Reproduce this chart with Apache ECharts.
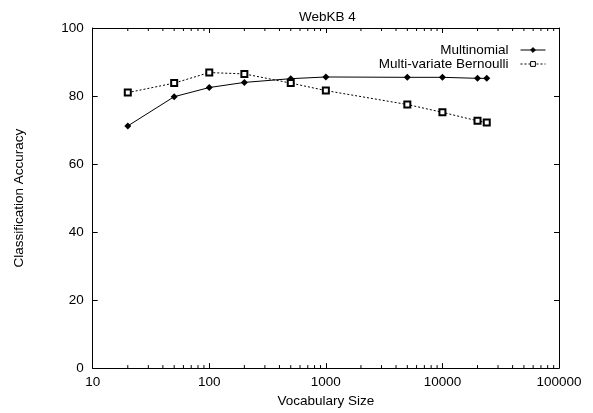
<!DOCTYPE html>
<html>
<head>
<meta charset="utf-8">
<script src="https://cdn.jsdelivr.net/npm/echarts@6/dist/echarts.min.js"></script>
<style>
html,body{margin:0;padding:0;background:#fff;}
#c{width:593px;height:413px;}
</style>
</head>
<body>
<div id="c"></div>
<script>
var vocabSizes = [20, 50, 100, 200, 500, 1000, 5000, 10000, 20000, 24000];
var multinomial = [71.2, 79.8, 82.5, 84.0, 85.1, 85.6, 85.5, 85.5, 85.2, 85.2];
var bernoulli = [81.0, 83.8, 86.9, 86.5, 83.8, 81.6, 77.5, 75.2, 72.7, 72.2];
var minorTicks = [20,30,40,50,60,70,80,90,200,300,400,500,600,700,800,900,
  2000,3000,4000,5000,6000,7000,8000,9000,20000,30000,40000,50000,60000,70000,80000,90000];

var FONT = 'Liberation Sans, Arial, sans-serif';
var chart = echarts.init(document.getElementById('c'), null, {renderer: 'canvas'});

function pairs(xs, ys) { return xs.map(function (x, i) { return [x, ys[i]]; }); }

var option = {
  animation: false,
  backgroundColor: '#fff',
  textStyle: {fontFamily: FONT, color: '#000'},
  title: {
    text: 'WebKB 4',
    left: 294, top: 5,
    textStyle: {fontFamily: FONT, fontSize: 13.5, fontWeight: 'normal', color: '#000'}
  },
  grid: {left: 92.7, right: 34, top: 28, bottom: 38, containLabel: false},
  legend: {
    orient: 'vertical',
    right: 47, top: 43,
    padding: 0,
    align: 'right',
    itemWidth: 25, itemHeight: 6, itemGap: 0,
    data: ['Multinomial', 'Multi-variate Bernoulli'],
    lineStyle: {width: 1},
    itemStyle: {borderWidth: 1},
    textStyle: {fontFamily: FONT, fontSize: 13.5, lineHeight: 14, color: '#000', padding: [0, 7, 0, 0]}
  },
  xAxis: [{
    type: 'log', logBase: 10, min: 10, max: 100000, position: 'bottom',
    name: 'Vocabulary Size', nameLocation: 'middle', nameGap: 24,
    nameTextStyle: {fontFamily: FONT, fontSize: 13.5, color: '#000'},
    axisLine: {show: true, onZero: false, lineStyle: {color: '#000', width: 1}},
    axisTick: {show: true, inside: true, length: 5, lineStyle: {color: '#000'}},
    axisLabel: {show: true, margin: 7, fontFamily: FONT, fontSize: 13.5, color: '#000',
      formatter: function (v) { return String(Math.round(v)); }},
    splitLine: {show: false}
  }, {
    type: 'log', logBase: 10, min: 10, max: 100000, position: 'top',
    axisLine: {show: true, onZero: false, lineStyle: {color: '#000', width: 1}},
    axisTick: {show: true, inside: true, length: 5, lineStyle: {color: '#000'}},
    axisLabel: {show: false},
    splitLine: {show: false}
  }],
  yAxis: [{
    type: 'value', min: 0, max: 100, interval: 20, position: 'left',
    name: 'Classification Accuracy', nameLocation: 'middle', nameGap: 66,
    nameTextStyle: {fontFamily: FONT, fontSize: 13.5, color: '#000'},
    axisLine: {show: true, onZero: false, lineStyle: {color: '#000', width: 1}},
    axisTick: {show: true, inside: true, length: 5, lineStyle: {color: '#000'}},
    axisLabel: {show: true, margin: 9, fontFamily: FONT, fontSize: 13.5, color: '#000'},
    splitLine: {show: false}
  }, {
    type: 'value', min: 0, max: 100, interval: 20, position: 'right',
    axisLine: {show: true, onZero: false, lineStyle: {color: '#000', width: 1}},
    axisTick: {show: true, inside: true, length: 5, lineStyle: {color: '#000'}},
    axisLabel: {show: false},
    splitLine: {show: false}
  }],
  series: [{
    name: 'minor',
    type: 'custom',
    silent: true,
    clip: false,
    xAxisIndex: 0, yAxisIndex: 0,
    data: minorTicks.map(function (v) { return [v, 0]; }),
    encode: {x: 0, y: 1},
    renderItem: function (params, api) {
      var v = api.value(0);
      var b = api.coord([v, 0]);
      var t = api.coord([v, 100]);
      return {
        type: 'group',
        children: [{
          type: 'line',
          shape: {x1: b[0], y1: b[1], x2: b[0], y2: b[1] - 3},
          style: {stroke: '#000', lineWidth: 1}
        }, {
          type: 'line',
          shape: {x1: t[0], y1: t[1], x2: t[0], y2: t[1] + 3},
          style: {stroke: '#000', lineWidth: 1}
        }]
      };
    }
  }, {
    name: 'Multinomial',
    type: 'line',
    data: pairs(vocabSizes, multinomial),
    symbol: 'diamond',
    symbolSize: [7, 7],
    showAllSymbol: true,
    lineStyle: {color: '#000', width: 1, type: 'solid'},
    itemStyle: {color: '#000', borderColor: '#000', borderWidth: 0}
  }, {
    name: 'Multi-variate Bernoulli',
    type: 'line',
    data: pairs(vocabSizes, bernoulli),
    symbol: 'rect',
    symbolSize: 6,
    showAllSymbol: true,
    lineStyle: {color: '#000', width: 1, type: [2, 2]},
    itemStyle: {color: '#fff', borderColor: '#000', borderWidth: 2}
  }]
};
chart.setOption(option);
</script>
</body>
</html>
